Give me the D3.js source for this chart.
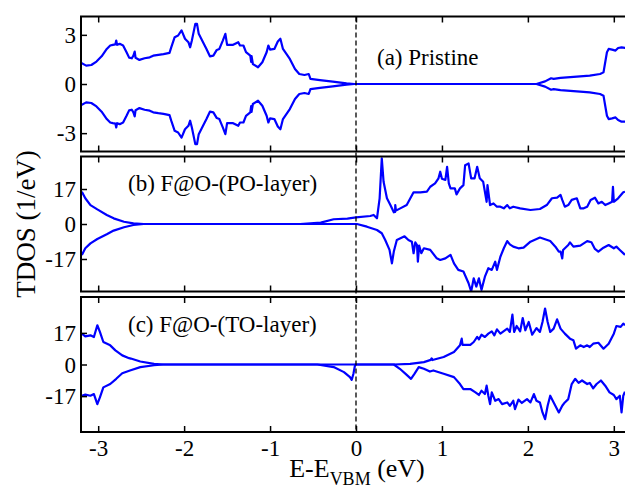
<!DOCTYPE html>
<html>
<head>
<meta charset="utf-8">
<script src="https://cdn.jsdelivr.net/npm/d3@7"></script>
<style>
body { margin: 0; background: #fff; }
svg { display: block; }
</style>
</head>
<body>
<svg id="chart" width="625" height="488"></svg>
<script>
// tick labels and panel titles
const xTicks = [-3, -2, -1, 0, 1, 2, 3];
const yTicksA = [-3, 0, 3];
const yTicksBC = [-17, 0, 17];
const panelTitles = ["(a) Pristine", "(b) F@O-(PO-layer)", "(c) F@O-(TO-layer)"];

// (a) pristine TDOS: [E - E_VBM (eV), DOS (1/eV)]
const pristineUp = [[-3.21,1.33],[-3.14,1.12],[-3.08,1.16],[-3.02,1.37],[-2.96,1.69],[-2.90,2.14],[-2.86,2.35],[-2.83,2.39],[-2.80,2.42],[-2.79,2.65],[-2.78,2.39],[-2.75,2.45],[-2.71,2.35],[-2.67,1.94],[-2.64,1.61],[-2.61,1.57],[-2.59,1.73],[-2.575,1.98],[-2.565,1.60],[-2.52,1.47],[-2.46,1.57],[-2.40,1.63],[-2.36,1.73],[-2.30,1.78],[-2.24,1.82],[-2.17,1.90],[-2.15,2.24],[-2.11,2.86],[-2.07,2.96],[-2.03,3.27],[-1.99,2.76],[-1.95,2.55],[-1.93,2.24],[-1.91,2.65],[-1.87,3.67],[-1.85,3.67],[-1.83,3.06],[-1.78,2.55],[-1.74,2.14],[-1.70,1.69],[-1.66,1.73],[-1.62,2.08],[-1.59,2.14],[-1.55,2.65],[-1.52,3.06],[-1.50,2.39],[-1.43,2.39],[-1.37,2.55],[-1.35,2.35],[-1.31,2.35],[-1.28,1.94],[-1.23,1.73],[-1.22,1.35],[-1.215,1.70],[-1.20,1.22],[-1.14,1.02],[-1.09,1.33],[-1.04,1.94],[-1.02,2.35],[-1.00,2.10],[-0.95,2.14],[-0.91,2.59],[-0.88,2.76],[-0.85,2.14],[-0.81,1.84],[-0.77,1.53],[-0.71,0.92],[-0.66,0.61],[-0.60,0.55],[-0.55,0.61],[-0.53,0.31],[-0.42,0.24],[-0.27,0.14],[-0.11,0.04],[-0.02,0],[2.10,0],[2.20,0.16],[2.27,0.35],[2.30,0.31],[2.38,0.37],[2.57,0.45],[2.72,0.51],[2.84,0.61],[2.88,0.71],[2.90,1.33],[2.92,1.94],[2.94,2.14],[2.98,2.10],[3.02,2.04],[3.05,2.20],[3.09,2.24],[3.13,2.20],[3.20,2.20]];
const pristineDown = [[-3.21,-1.33],[-3.14,-1.12],[-3.08,-1.16],[-3.02,-1.37],[-2.96,-1.69],[-2.90,-2.14],[-2.86,-2.35],[-2.83,-2.39],[-2.80,-2.42],[-2.79,-2.65],[-2.78,-2.39],[-2.75,-2.45],[-2.71,-2.35],[-2.67,-1.94],[-2.64,-1.61],[-2.61,-1.57],[-2.59,-1.73],[-2.575,-1.98],[-2.565,-1.60],[-2.52,-1.47],[-2.46,-1.57],[-2.40,-1.63],[-2.36,-1.73],[-2.30,-1.78],[-2.24,-1.82],[-2.17,-1.90],[-2.15,-2.24],[-2.11,-2.86],[-2.07,-2.96],[-2.03,-3.27],[-1.99,-2.76],[-1.95,-2.55],[-1.93,-2.24],[-1.91,-2.65],[-1.87,-3.67],[-1.85,-3.67],[-1.83,-3.06],[-1.78,-2.55],[-1.74,-2.14],[-1.70,-1.69],[-1.66,-1.73],[-1.62,-2.08],[-1.59,-2.14],[-1.55,-2.65],[-1.52,-3.06],[-1.50,-2.39],[-1.43,-2.39],[-1.37,-2.55],[-1.35,-2.35],[-1.31,-2.35],[-1.28,-1.94],[-1.23,-1.73],[-1.22,-1.35],[-1.215,-1.70],[-1.20,-1.22],[-1.14,-1.02],[-1.09,-1.33],[-1.04,-1.94],[-1.02,-2.35],[-1.00,-2.10],[-0.95,-2.14],[-0.91,-2.59],[-0.88,-2.76],[-0.85,-2.14],[-0.81,-1.84],[-0.77,-1.53],[-0.71,-0.92],[-0.66,-0.61],[-0.60,-0.55],[-0.55,-0.61],[-0.53,-0.31],[-0.42,-0.24],[-0.27,-0.14],[-0.11,-0.04],[-0.02,0],[2.10,0],[2.20,-0.16],[2.27,-0.35],[2.30,-0.31],[2.38,-0.37],[2.57,-0.45],[2.72,-0.51],[2.84,-0.61],[2.88,-0.71],[2.90,-1.33],[2.92,-1.94],[2.94,-2.14],[2.98,-2.10],[3.02,-2.04],[3.05,-2.20],[3.09,-2.30],[3.13,-2.30],[3.20,-2.30]];

// (b) F@O-(PO-layer)
const poUp = [[-3.19,15.7],[-3.15,12.5],[-3.09,9.2],[-3.01,7.1],[-2.90,4.4],[-2.82,2.75],[-2.70,1.1],[-2.59,0.3],[-2.47,0],[-0.65,0],[-0.41,0.65],[-0.26,2.3],[-0.10,2.6],[0.0,3.2],[0.166,3.9],[0.205,4.4],[0.244,2.75],[0.275,12.5],[0.30,31.9],[0.321,20.5],[0.36,12.5],[0.40,9.2],[0.44,5.7],[0.455,5.9],[0.457,9.2],[0.465,6.5],[0.515,7.6],[0.59,9.2],[0.67,15.4],[0.75,15.4],[0.825,15.7],[0.864,18.1],[0.92,19.7],[0.96,22.2],[0.98,25.4],[1.0,22.0],[1.04,21.4],[1.06,27.8],[1.08,19.7],[1.10,17.3],[1.15,17.3],[1.17,14.4],[1.21,17.3],[1.25,18.9],[1.27,28.6],[1.31,29.4],[1.34,22.2],[1.38,22.2],[1.41,27.8],[1.44,22.2],[1.48,20.5],[1.52,10.8],[1.53,18.9],[1.56,9.2],[1.60,10.0],[1.64,8.4],[1.68,8.4],[1.72,7.6],[1.76,9.2],[1.79,7.6],[1.83,8.4],[1.91,7.6],[2.03,6.8],[2.14,7.3],[2.22,9.2],[2.28,12.5],[2.34,12.8],[2.38,14.1],[2.40,11.7],[2.43,8.4],[2.47,9.2],[2.51,11.7],[2.57,12.5],[2.61,7.6],[2.65,7.6],[2.69,8.4],[2.73,11.7],[2.78,12.8],[2.82,10.0],[2.86,10.8],[2.90,9.2],[2.94,10.0],[2.98,10.8],[2.99,18.1],[3.0,10.8],[3.05,12.5],[3.11,15.4],[3.13,15.7]];
const poDown = [[-3.19,-15.0],[-3.15,-11.8],[-3.09,-9.4],[-3.01,-7.3],[-2.90,-5.0],[-2.82,-3.2],[-2.70,-1.6],[-2.59,-0.5],[-2.47,0],[0.011,0],[0.127,-1.3],[0.244,-2.9],[0.30,-4.5],[0.34,-7.8],[0.39,-12.6],[0.418,-19.1],[0.44,-13.4],[0.475,-7.8],[0.535,-6.6],[0.565,-6.0],[0.61,-7.8],[0.65,-8.6],[0.67,-14.2],[0.69,-8.9],[0.71,-10.2],[0.72,-18.3],[0.735,-10.5],[0.76,-14.2],[0.79,-11.8],[0.864,-12.6],[0.94,-16.7],[0.98,-17.5],[1.04,-16.7],[1.10,-15.0],[1.14,-19.1],[1.19,-22.3],[1.25,-23.1],[1.31,-28.8],[1.34,-32.8],[1.37,-26.4],[1.40,-30.4],[1.43,-26.4],[1.46,-32.0],[1.50,-25.6],[1.54,-21.5],[1.58,-22.3],[1.62,-18.3],[1.64,-22.3],[1.68,-15.9],[1.72,-11.8],[1.76,-8.3],[1.79,-9.9],[1.83,-11.0],[1.89,-11.8],[1.95,-11.5],[2.03,-8.6],[2.14,-6.6],[2.26,-8.3],[2.32,-11.0],[2.36,-13.4],[2.38,-13.4],[2.40,-16.7],[2.41,-12.6],[2.47,-10.2],[2.49,-8.9],[2.53,-11.0],[2.61,-10.5],[2.69,-8.3],[2.74,-8.9],[2.78,-12.1],[2.82,-13.4],[2.88,-11.5],[2.94,-10.2],[3.0,-11.8],[3.03,-11.0],[3.07,-12.6],[3.13,-15.0]];

// (c) F@O-(TO-layer)
const toUp = [[-3.19,16.6],[-3.15,15.1],[-3.09,15.7],[-3.05,14.8],[-3.01,21.1],[-2.98,17.5],[-2.94,12.1],[-2.86,10.3],[-2.80,7.6],[-2.72,4.9],[-2.64,3.4],[-2.62,3.2],[-2.51,1.6],[-2.35,0.36],[-2.24,0],[0.44,0],[0.63,0.36],[0.79,1.3],[0.87,2.5],[0.88,3.3],[0.89,2.4],[1.02,4.0],[1.14,6.7],[1.21,10.3],[1.23,13.9],[1.24,10.6],[1.33,10.6],[1.37,12.1],[1.41,14.8],[1.43,13.5],[1.46,16.0],[1.50,14.8],[1.54,16.6],[1.58,17.8],[1.61,15.7],[1.64,18.9],[1.68,16.6],[1.76,19.3],[1.79,17.5],[1.82,26.8],[1.84,17.5],[1.87,20.7],[1.91,17.8],[1.94,25.0],[1.97,18.4],[2.01,22.9],[2.05,16.0],[2.10,19.6],[2.14,17.5],[2.17,22.9],[2.20,30.1],[2.23,22.9],[2.26,17.5],[2.30,19.3],[2.34,24.3],[2.38,19.3],[2.43,16.6],[2.49,13.9],[2.53,13.0],[2.56,8.5],[2.61,10.3],[2.65,9.4],[2.69,10.3],[2.72,9.4],[2.76,11.2],[2.82,11.7],[2.88,8.5],[2.94,11.2],[3.0,16.6],[3.03,20.7],[3.08,20.2],[3.11,22.0],[3.13,21.1]];
const toDown = [[-3.19,-16.8],[-3.15,-16.2],[-3.09,-16.8],[-3.05,-15.9],[-3.01,-21.3],[-2.98,-17.7],[-2.94,-12.3],[-2.86,-10.5],[-2.79,-7.7],[-2.72,-4.7],[-2.63,-3.2],[-2.51,-1.4],[-2.35,-0.4],[-2.24,0],[-0.45,0],[-0.26,-1.4],[-0.14,-4.1],[-0.07,-6.8],[-0.05,-8.3],[-0.03,-5.0],[-0.01,0],[0.44,0],[0.51,-2.3],[0.59,-5.6],[0.64,-7.7],[0.68,-5.0],[0.73,-1.4],[0.79,-2.3],[0.86,-3.8],[0.90,-3.2],[1.02,-5.0],[1.14,-6.8],[1.21,-10.5],[1.25,-13.2],[1.33,-13.2],[1.39,-15.0],[1.43,-16.4],[1.46,-14.1],[1.50,-15.9],[1.52,-11.4],[1.54,-16.8],[1.56,-21.3],[1.58,-15.0],[1.62,-19.5],[1.66,-18.6],[1.70,-21.3],[1.76,-20.4],[1.79,-22.2],[1.83,-19.5],[1.85,-24.0],[1.89,-18.9],[1.93,-20.7],[1.99,-18.6],[2.03,-20.4],[2.07,-15.9],[2.10,-19.5],[2.14,-20.4],[2.17,-25.8],[2.20,-29.4],[2.23,-22.2],[2.26,-16.8],[2.30,-20.4],[2.36,-25.8],[2.40,-22.2],[2.43,-20.4],[2.47,-18.6],[2.51,-10.5],[2.55,-7.7],[2.59,-9.9],[2.63,-8.6],[2.69,-10.5],[2.72,-9.9],[2.76,-12.8],[2.80,-10.5],[2.85,-8.6],[2.90,-11.4],[2.95,-15.0],[3.0,-16.4],[3.03,-18.6],[3.07,-16.8],[3.09,-25.8],[3.11,-16.8],[3.13,-14.6]];

const svg = d3.select("svg#chart");
const font = "'Liberation Serif', 'Times New Roman', serif";

// the right frame edge falls outside the 625px window, as in the original
const left = 81, right = 631;
const panelHeight = 135;
const panelTops = [16.5, 156.5, 297];

const x = d3.scaleLinear().domain([-3.2, 3.2]).range([left, right]);

const panels = [
    { title: panelTitles[0], up: pristineUp, down: pristineDown, ymax: 4.12, ticks: yTicksA, tx: 377, ty: 48 },
    { title: panelTitles[1], up: poUp, down: poDown, ymax: 32.8, ticks: yTicksBC, tx: 128, ty: 34 },
    { title: panelTitles[2], up: toUp, down: toDown, ymax: 36.3, ticks: yTicksBC, tx: 128, ty: 35 }
];

panels.forEach((p, i) => {
    const top = panelTops[i];
    const y = d3.scaleLinear().domain([-p.ymax, p.ymax]).range([top + panelHeight, top]);
    const g = svg.append("g").attr("class", "panel");

    g.append("clipPath").attr("id", "clip" + i)
        .append("rect").attr("x", left).attr("y", top)
        .attr("width", right - left).attr("height", panelHeight);

    const line = d3.line().x(d => x(d[0])).y(d => y(d[1]));
    const curves = g.append("g").attr("clip-path", `url(#clip${i})`);
    [p.up, p.down].forEach(series => {
        curves.append("path")
            .attr("d", line(series))
            .attr("fill", "none")
            .attr("stroke", "#0000ff")
            .attr("stroke-width", 2.2)
            .attr("stroke-linejoin", "round");
    });

    // inward ticks on all sides
    g.append("g").attr("transform", `translate(0,${top})`)
        .call(d3.axisBottom(x).tickValues(xTicks).tickSize(6).tickFormat(""))
        .call(a => a.select(".domain").remove());
    g.append("g").attr("transform", `translate(0,${top + panelHeight})`)
        .call(d3.axisTop(x).tickValues(xTicks).tickSize(6).tickFormat(""))
        .call(a => a.select(".domain").remove());
    g.append("g").attr("transform", `translate(${left},0)`)
        .call(d3.axisRight(y).tickValues(p.ticks).tickSize(6).tickFormat(""))
        .call(a => a.select(".domain").remove());
    g.selectAll(".tick line").attr("stroke", "#000").attr("stroke-width", 1.5);

    g.selectAll("text.ylab").data(p.ticks).join("text")
        .attr("class", "ylab")
        .attr("x", left - 5)
        .attr("y", d => y(d))
        .attr("dy", "0.35em")
        .attr("text-anchor", "end")
        .attr("font-family", font)
        .attr("font-size", 23)
        .text(d => d);

    g.append("rect")
        .attr("x", left).attr("y", top)
        .attr("width", right - left).attr("height", panelHeight)
        .attr("fill", "none").attr("stroke", "#000").attr("stroke-width", 2);

    g.append("text")
        .attr("x", p.tx).attr("y", top + p.ty)
        .attr("font-family", font).attr("font-size", 23)
        .text(p.title);
});

// dashed line at the valence band maximum
svg.append("line")
    .attr("x1", x(0)).attr("x2", x(0))
    .attr("y1", panelTops[0]).attr("y2", panelTops[2] + panelHeight)
    .attr("stroke", "#000").attr("stroke-width", 1.3)
    .attr("stroke-dasharray", "5,3");

// x tick labels under the bottom panel
const bottom = panelTops[2] + panelHeight;
svg.append("g").attr("transform", `translate(0,${bottom})`)
    .call(d3.axisBottom(x).tickValues(xTicks).tickSize(0).tickPadding(8).tickFormat(d => d))
    .call(a => a.select(".domain").remove())
    .selectAll("text")
    .attr("font-family", font).attr("font-size", 23).attr("fill", "#000");

const xTitle = svg.append("text")
    .attr("x", x(0) + 1).attr("y", 477)
    .attr("text-anchor", "middle")
    .attr("font-family", font).attr("font-size", 26);
xTitle.append("tspan").text("E-E");
xTitle.append("tspan").attr("font-size", 18).attr("dy", 8).text("VBM");
xTitle.append("tspan").attr("dy", -8).text(" (eV)");

svg.append("text")
    .attr("transform", "translate(35,224) rotate(-90)")
    .attr("text-anchor", "middle")
    .attr("font-family", font).attr("font-size", 27)
    .text("TDOS (1/eV)");
</script>
</body>
</html>
